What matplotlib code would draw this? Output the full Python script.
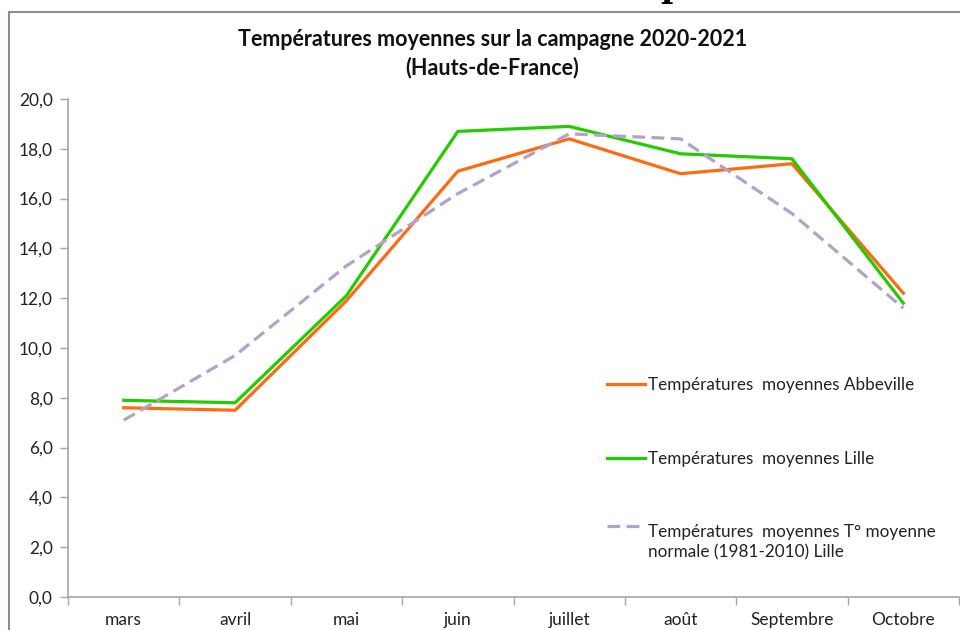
import matplotlib
matplotlib.use("Agg")
import matplotlib.pyplot as plt
from matplotlib.patches import Rectangle
from matplotlib.legend_handler import HandlerLine2D
from matplotlib.ticker import FixedLocator, FuncFormatter

plt.rcParams["font.family"] = ["Lato", "DejaVu Sans"]

months = ["mars", "avril", "mai", "juin", "juillet", "août", "Septembre", "Octobre"]
abbeville = [7.6, 7.5, 11.9, 17.1, 18.4, 17.0, 17.4, 12.2]
lille = [7.9, 7.8, 12.1, 18.7, 18.9, 17.8, 17.6, 11.8]
normale_lille = [7.1, 9.7, 13.3, 16.2, 18.6, 18.4, 15.4, 11.6]

labels = [
    "Températures  moyennes Abbeville",
    "Températures  moyennes Lille",
    "Températures  moyennes T° moyenne\nnormale (1981-2010) Lille",
]


class TopLineHandler(HandlerLine2D):
    # puts the legend line level with the first line of a two-line label
    def __init__(self, shift, **kw):
        super().__init__(**kw)
        self.shift = shift

    def create_artists(self, legend, orig_handle, xdescent, ydescent,
                       width, height, fontsize, trans):
        artists = super().create_artists(legend, orig_handle, xdescent, ydescent,
                                         width, height, fontsize, trans)
        for a in artists:
            a.set_ydata([y + self.shift * fontsize for y in a.get_ydata()])
        return artists


fig = plt.figure(figsize=(9.6, 6.3), dpi=100)
ax = fig.add_axes([68 / 960, 1 - 597 / 630, 891 / 960, 498 / 630])

x = range(len(months))
ax.plot(x, abbeville, color="#FF6A10", lw=2.3, label=labels[0])
ax.plot(x, lille, color="#22CC00", lw=2.3, label=labels[1])
dash, = ax.plot(x, normale_lille, color="#B3A2C7", lw=2.3, ls=(0, (4, 2)), label=labels[2])

ax.set_xlim(-0.5, len(months) - 0.5)
ax.set_ylim(0, 20)
ax.set_yticks([i * 2 for i in range(11)])
ax.yaxis.set_major_formatter(FuncFormatter(lambda v, p: f"{v:.1f}".replace(".", ",")))

ax.set_xticks(list(x))
ax.set_xticklabels(months)
ax.xaxis.set_minor_locator(FixedLocator([i - 0.5 for i in range(len(months) + 1)]))
ax.tick_params(axis="x", which="major", length=0, pad=11, labelsize=12.5, colors="#222222")
ax.tick_params(axis="x", which="minor", length=6, color="#A6A6A6", width=1)
ax.tick_params(axis="y", length=6, color="#A6A6A6", width=1, pad=5, labelsize=12.5, labelcolor="#222222")

for side in ["top", "right"]:
    ax.spines[side].set_visible(False)
for side in ["left", "bottom"]:
    ax.spines[side].set_color("#A6A6A6")
    ax.spines[side].set_linewidth(1.2)

leg = ax.legend(
    loc="upper left",
    bbox_to_anchor=((592 - 68) / 891, 1 - (362 - 99) / 498),
    frameon=False,
    fontsize=12.3,
    handlelength=2.2,
    handletextpad=0.15,
    labelspacing=3.35,
    handler_map={dash: TopLineHandler(0.95)},
)
for t in leg.get_texts():
    t.set_color("#222222")
    t.set_linespacing(1.35)

fig.text(0.513, 1 - 40 / 630, "Températures moyennes sur la campagne 2020-2021",
         ha="center", va="center", fontsize=15.5, fontweight="bold", color="#111111")
fig.text(0.513, 1 - 68 / 630, "(Hauts-de-France)",
         ha="center", va="center", fontsize=15.5, fontweight="bold", color="#111111")

# border of the chart frame
fig.patches.append(Rectangle((9 / 960, -0.1), 1.2, 1 - 12 / 630 + 0.1,
                             transform=fig.transFigure, fill=False,
                             edgecolor="#8C8C8C", lw=1.5))

# cut-off text from the page above
fig.text(672 / 960, 1 + 3 / 630, "p", ha="center", va="baseline",
         fontsize=24, family="DejaVu Serif", fontweight="bold", color="black")

fig.savefig("out.png", dpi=100)
